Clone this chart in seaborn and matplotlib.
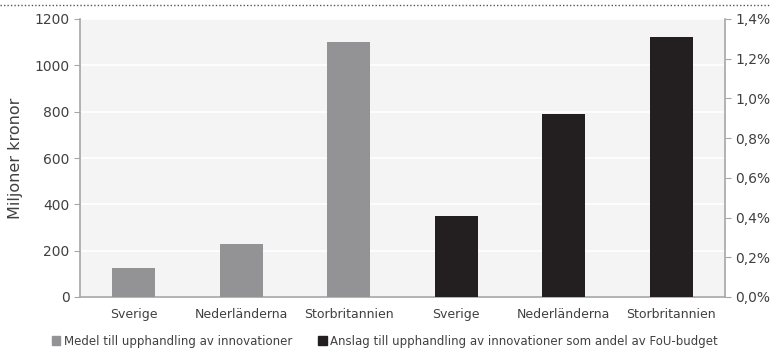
import pandas as pd
import seaborn as sns
import matplotlib.pyplot as plt
from matplotlib.lines import Line2D
from matplotlib.patches import Patch

# Data
countries = ['Sverige', 'Nederländerna', 'Storbritannien']
medel_mkr = [125, 230, 1100]          # miljoner kronor, left axis
anslag_pct = [0.41, 0.92, 1.31]       # andel av FoU-budget (%), right axis

keys = ['m_' + c for c in countries] + ['a_' + c for c in countries]
tick_labels = countries + countries

df = pd.DataFrame({
    'key': keys,
    'medel': medel_mkr + [float('nan')] * 3,
    'anslag': [float('nan')] * 3 + anslag_pct,
})

sns.set_style('white')
plt.rcParams['font.family'] = ['DejaVu Sans']
txt = '#404040'
grey = '#939396'
black = '#231f20'
spine = '#a6a6a6'

fig = plt.figure(figsize=(7.7, 3.54), dpi=100)
ax = fig.add_axes([80 / 770, 1 - 297 / 354, 645 / 770, 278 / 354])
ax.set_facecolor('#f3f4f3')

sns.barplot(data=df, x='key', y='medel', order=keys, color=grey, width=0.4,
            linewidth=0, saturation=1, ax=ax, zorder=3)
ax2 = ax.twinx()
sns.barplot(data=df, x='key', y='anslag', order=keys, color=black, width=0.4,
            linewidth=0, saturation=1, ax=ax2, zorder=3)

ax.set_xlim(-0.5, 5.5)
ax.set_ylim(0, 1200)
ax.set_yticks(range(0, 1201, 200))
ax2.set_ylim(0, 1.4)
ax2.set_yticks([i * 0.2 for i in range(8)])
ax2.set_yticklabels([f'{i * 0.2:.1f}%'.replace('.', ',') for i in range(8)])

ax.yaxis.grid(True, color='white', linewidth=1.2, zorder=0)
ax.set_axisbelow(True)

ax.set_xticks(range(6))
ax.set_xticklabels(tick_labels)
ax.set_xticks([i + 0.5 for i in range(-1, 6)], minor=True)
ax.tick_params(axis='x', which='major', length=0, pad=8, labelsize=9, labelcolor=txt)
ax.tick_params(axis='x', which='minor', length=4, color=spine, direction='out')
ax.tick_params(axis='y', length=4, color=spine, labelsize=10, labelcolor=txt, left=True)
ax2.tick_params(axis='y', length=4, color=spine, labelsize=10, labelcolor=txt, right=True)

ax.set_xlabel('')
ax.set_ylabel('Miljoner kronor', fontsize=11.5, color=txt, labelpad=8)
ax2.set_xlabel('')
ax2.set_ylabel('')

for a in (ax, ax2):
    for s in a.spines.values():
        s.set_visible(False)
ax.spines['left'].set_visible(True)
ax.spines['bottom'].set_visible(True)
ax2.spines['right'].set_visible(True)
for s in (ax.spines['left'], ax.spines['bottom'], ax2.spines['right']):
    s.set_color(spine)
    s.set_linewidth(1.2)

handles = [Patch(color=grey, label='Medel till upphandling av innovationer'),
           Patch(color=black, label='Anslag till upphandling av innovationer som andel av FoU-budget')]
fig.legend(handles=handles, loc='center', bbox_to_anchor=(0.5, 1 - 341 / 354), ncol=2,
           frameon=False, fontsize=8.5, labelcolor=txt, handlelength=0.7, handleheight=0.7,
           handletextpad=0.3, columnspacing=2.2)

fig.add_artist(Line2D([0, 1], [1 - 5 / 354, 1 - 5 / 354], transform=fig.transFigure,
                      color='#555555', linestyle=(0, (1, 1.5)), linewidth=1.0))

fig.savefig('out.png', dpi=100)
